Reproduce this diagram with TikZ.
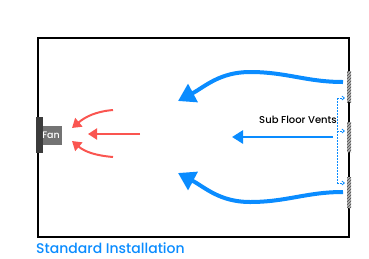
\documentclass[tikz,border=0pt]{standalone}
\usepackage{fontspec}
\setmainfont{Poppins Medium}
\usetikzlibrary{arrows.meta,patterns}
\definecolor{airblue}{RGB}{10,140,255}
\definecolor{airred}{RGB}{250,85,80}
\definecolor{fandark}{RGB}{60,60,60}
\definecolor{fanlight}{RGB}{115,115,115}
\tikzset{
  wall/.style={line width=2.6pt, black},
  vent/.style={fill=gray!60, draw=none},
  bigflow/.style={airblue, line width=4pt, -{Triangle[length=17pt,width=20pt]}},
  midflow/.style={airblue, line width=2.6pt, -{Triangle[length=11pt,width=13pt]}},
  redflow/.style={airred, line width=2pt, -{Triangle[length=9pt,width=11pt]}},
  ventflow/.style={airblue, line width=0.8pt, dashed, dash pattern=on 2pt off 1pt},
}
\begin{document}
\begin{tikzpicture}[x=1pt, y=-1pt]
\useasboundingbox (0,0) rectangle (369,258);
% room
\draw [wall] (38,38) rectangle (349,237);
\fill [vent] (347,71) rectangle (351,102);
\fill [vent] (347,122) rectangle (351,152);
\fill [vent] (347,177) rectangle (351,208);
\fill [pattern=north east lines, pattern color=black!70] (347,71) rectangle (351,102);
\fill [pattern=north east lines, pattern color=black!70] (347,122) rectangle (351,152);
\fill [pattern=north east lines, pattern color=black!70] (347,177) rectangle (351,208);
% fan
\fill [fandark] (36,117) rectangle (43,153);
\fill [fanlight] (43,126) rectangle (62,145);
\node (fan) at (51,135.5) {\fontsize{9.5}{9.5}\selectfont\color{white}Fan};
% red air to the fan
\coordinate (r1) at (113,110);
\coordinate (r2) at (140,134);
\coordinate (r3) at (113,157);
\coordinate (f1) at (72,128);
\coordinate (f2) at (88,134);
\coordinate (f3) at (72,141);
\draw [redflow] (r1) to[out=185,in=40] (f1);
\draw [redflow] (r2) -- (f2);
\draw [redflow] (r3) to[out=175,in=-40] (f3);
% blue air from the vents
\coordinate (v1) at (343,82);
\coordinate (v2) at (333,137);
\coordinate (v3) at (343,192);
\coordinate (t1) at (178,101);
\coordinate (t2) at (232,137);
\coordinate (t3) at (178,173);
\draw [bigflow] (v1) to[out=180,in=0] (250,72) to[out=180,in=28] (t1);
\draw [midflow] (v2) -- (t2);
\draw [bigflow] (v3) to[out=180,in=0] (250,202) to[out=180,in=-28] (t3);
% vent feed
\coordinate (d1) at (337,98);
\coordinate (d2) at (337,131);
\coordinate (d3) at (337,183);
\draw [ventflow] (d1) -- (d3);
\draw [ventflow, -{Straight Barb[length=2.5pt,width=4pt]}] (d1) -- (345,98);
\draw [ventflow, -{Straight Barb[length=2.5pt,width=4pt]}] (d2) -- (345,131);
\draw [ventflow, -{Straight Barb[length=2.5pt,width=4pt]}] (d3) -- (345,183);
\node (vents) at (298,120) {\fontsize{10}{10}\selectfont Sub Floor Vents};
\node [anchor=west, text=airblue, inner sep=0pt] (title) at (36,248.5) {\fontsize{14}{14}\selectfont Standard Installation};
\end{tikzpicture}
\end{document}
